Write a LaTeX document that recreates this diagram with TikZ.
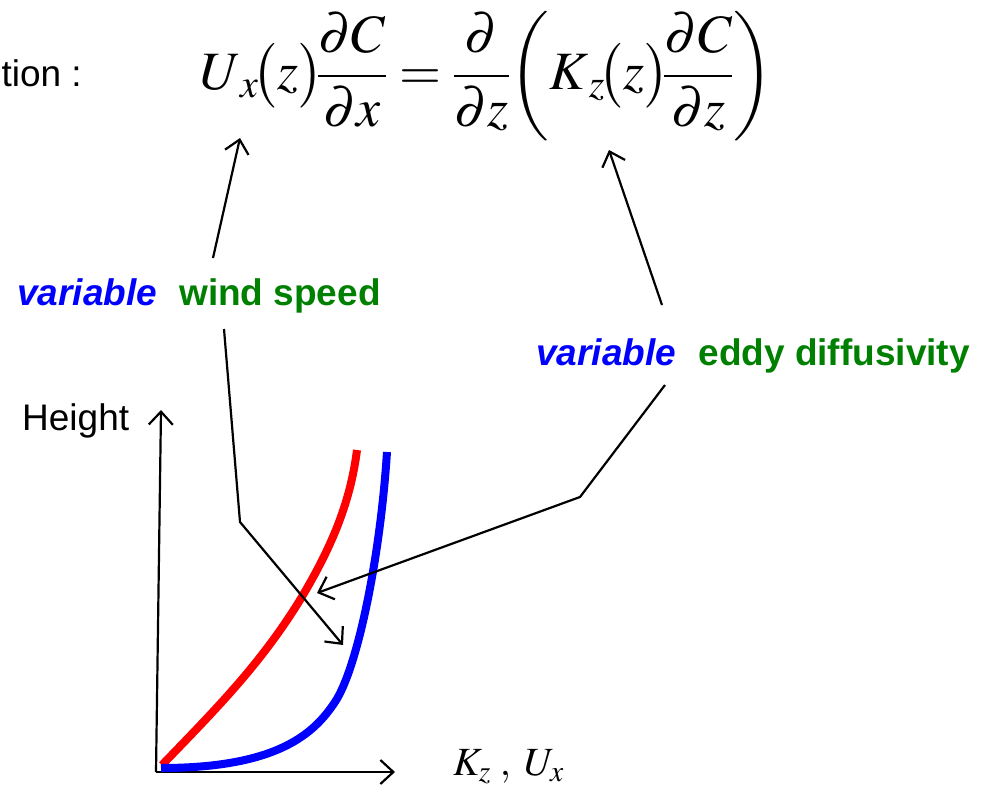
\documentclass[tikz,border=0pt]{standalone}
\usepackage{amsmath}
\usepackage{mathptmx}
\usepackage[no-math]{fontspec}
\setmainfont{Liberation Sans}
\usetikzlibrary{arrows.meta}
\definecolor{dkgreen}{RGB}{0,128,0}
\definecolor{pblue}{RGB}{0,0,255}
\definecolor{pred}{RGB}{255,0,0}
\tikzset{
  lab/.style={font=\fontsize{37}{40}\selectfont\bfseries, inner sep=0pt},
  plain/.style={font=\fontsize{37}{40}\selectfont, inner sep=0pt},
  conn/.style={line width=2.2pt, -{Straight Barb[length=13pt,width=24pt,line width=2.2pt]}},
  curve/.style={line width=8pt, line cap=butt}
}
\begin{document}
\begin{tikzpicture}[x=1pt,y=-1pt]
\useasboundingbox (0,0) rectangle (986,787);
% texts
\node[plain, anchor=base east] (tion) at (82,86) {tion :};
\node[inner sep=0pt, font=\fontsize{54}{58}\selectfont] (eq) at (487,76)
 {$U_{\,x}\!\bigl(z\bigr)\!\dfrac{\partial C}{\partial x}=\dfrac{\partial}{\partial z}\!\left(K_{\,z}\!\bigl(z\bigr)\!\dfrac{\partial C}{\partial z}\right)$};
\node[lab, anchor=base west] (ws) at (17,305) {\textcolor{pblue}{\itshape variable}\hspace{0.6em}\textcolor{dkgreen}{wind speed}};
\node[lab, anchor=base east] (ed) at (970,365) {\textcolor{pblue}{\itshape variable}\hspace{0.6em}\textcolor{dkgreen}{eddy diffusivity}};
\node[plain, anchor=base west] (height) at (22,430) {Height};
\node[inner sep=0pt, anchor=base west, font=\fontsize{40}{42}\selectfont] (kz) at (453,775) {$K_{z}\;,\;U_{x}$};
% axes
\coordinate (o) at (156,772);
\coordinate (ytop) at (161,410);
\coordinate (xend) at (395,772);
\draw[conn] (o) -- (ytop);
\draw[conn] (o) -- (xend);
% curves
\draw[curve, pred] (162,765) .. controls (215,710) and (260,665) .. (300,600)
  .. controls (330,550) and (350,505) .. (357,450);
\draw[curve, pblue] (161,768) .. controls (280,768) and (315,732) .. (335,702)
  .. controls (357,669) and (380,560) .. (387,452);
% connectors
\coordinate (wsA) at (213,258);
\coordinate (ux) at (240,138);
\draw[conn] (wsA) -- (ux);
\coordinate (edA) at (662,305);
\coordinate (kzt) at (609,150);
\draw[conn] (edA) -- (kzt);
\coordinate (ws1) at (224,329);
\coordinate (ws2) at (240,522);
\coordinate (wsT) at (343,645);
\draw[conn] (ws1) -- (ws2) -- (wsT);
\coordinate (ed1) at (665,385);
\coordinate (ed2) at (580,497);
\coordinate (edT) at (317,593);
\draw[conn] (ed1) -- (ed2) -- (edT);
\end{tikzpicture}
\end{document}
